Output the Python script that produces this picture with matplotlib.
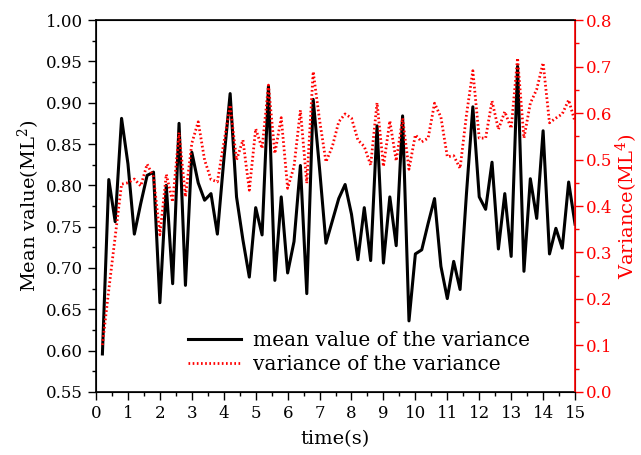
import matplotlib
matplotlib.use("Agg")
import matplotlib.pyplot as plt
import numpy as np
from matplotlib.ticker import MultipleLocator

# time axis (s)
time = [round(0.2 * i, 1) for i in range(1, 76)]

# mean value of the variance (left axis)
mean_val = [
    0.596, 0.807, 0.756, 0.881, 0.826, 0.741, 0.778, 0.812, 0.816, 0.658,
    0.800, 0.681, 0.875, 0.679, 0.840, 0.803, 0.782, 0.790, 0.741, 0.830,
    0.911, 0.786, 0.734, 0.689, 0.773, 0.740, 0.920, 0.685, 0.786, 0.694,
    0.732, 0.824, 0.669, 0.904, 0.820, 0.730, 0.757, 0.784, 0.801, 0.765,
    0.710, 0.773, 0.709, 0.872, 0.706, 0.786, 0.727, 0.884, 0.636, 0.717,
    0.722, 0.754, 0.784, 0.702, 0.663, 0.708, 0.674, 0.790, 0.895, 0.786,
    0.771, 0.828, 0.723, 0.790, 0.714, 0.944, 0.696, 0.808, 0.760, 0.866,
    0.717, 0.748, 0.724, 0.804, 0.753,
]

# variance of the variance (right axis)
var_val = [
    0.101, 0.220, 0.334, 0.447, 0.450, 0.458, 0.443, 0.490, 0.463, 0.338,
    0.468, 0.409, 0.558, 0.420, 0.535, 0.581, 0.499, 0.457, 0.452, 0.535,
    0.617, 0.499, 0.542, 0.434, 0.566, 0.524, 0.660, 0.513, 0.590, 0.438,
    0.485, 0.606, 0.449, 0.689, 0.585, 0.495, 0.528, 0.581, 0.598, 0.589,
    0.542, 0.528, 0.488, 0.622, 0.485, 0.583, 0.497, 0.589, 0.479, 0.553,
    0.538, 0.546, 0.621, 0.591, 0.506, 0.508, 0.481, 0.596, 0.691, 0.546,
    0.546, 0.626, 0.565, 0.603, 0.567, 0.718, 0.546, 0.621, 0.651, 0.708,
    0.579, 0.589, 0.598, 0.628, 0.581,
]

plt.rcParams['font.family'] = ['DejaVu Serif']
plt.rcParams['mathtext.fontset'] = 'dejavuserif'

fig = plt.figure(figsize=(6.41, 4.55), dpi=100)
ax = fig.add_axes([0.1498, 0.1385, 0.7473, 0.8175])
ax2 = ax.twinx()

l1, = ax.plot(time, mean_val, color='black', lw=2.2)
l2, = ax2.plot(time, var_val, color='red', lw=2.0, ls=(0, (0.6, 0.9)))

ax.set_xlim(0, 15)
ax.set_ylim(0.55, 1.00)
ax2.set_ylim(0.0, 0.8)

ax.xaxis.set_major_locator(MultipleLocator(1))
ax.xaxis.set_minor_locator(MultipleLocator(0.5))
ax.yaxis.set_major_locator(MultipleLocator(0.05))
ax.yaxis.set_minor_locator(MultipleLocator(0.025))
ax2.yaxis.set_major_locator(MultipleLocator(0.1))
ax2.yaxis.set_minor_locator(MultipleLocator(0.05))
ax.yaxis.set_major_formatter(plt.FormatStrFormatter('%.2f'))
ax2.yaxis.set_major_formatter(plt.FormatStrFormatter('%.1f'))

ax.tick_params(which='major', direction='out', length=6, width=1, labelsize=12)
ax.tick_params(which='minor', direction='out', length=3, width=1)
ax.tick_params(axis='x', which='both', top=False)
ax2.tick_params(which='major', direction='out', length=6, width=1, labelsize=12,
                colors='red', pad=2)
ax2.tick_params(which='minor', direction='out', length=3, width=1, colors='red')
ax2.spines['right'].set_color('red')
for s in ['left', 'bottom', 'top']:
    ax.spines[s].set_linewidth(1.2)
ax2.spines['right'].set_linewidth(1.2)

ax.set_xlabel('time(s)', fontsize=14, labelpad=6)
ax.set_ylabel('Mean value(ML$^2$)', fontsize=14, labelpad=3)
ax2.set_ylabel('Variance(ML$^4$)', fontsize=14, color='red', labelpad=1)

ax.legend([l1, l2], ['mean value of the variance', 'variance of the variance'],
          loc='lower left', bbox_to_anchor=(0.155, 0.0), frameon=False,
          fontsize=14.5, handlelength=2.6, handletextpad=0.6, labelspacing=0.25)

fig.savefig('out.png', dpi=100)
